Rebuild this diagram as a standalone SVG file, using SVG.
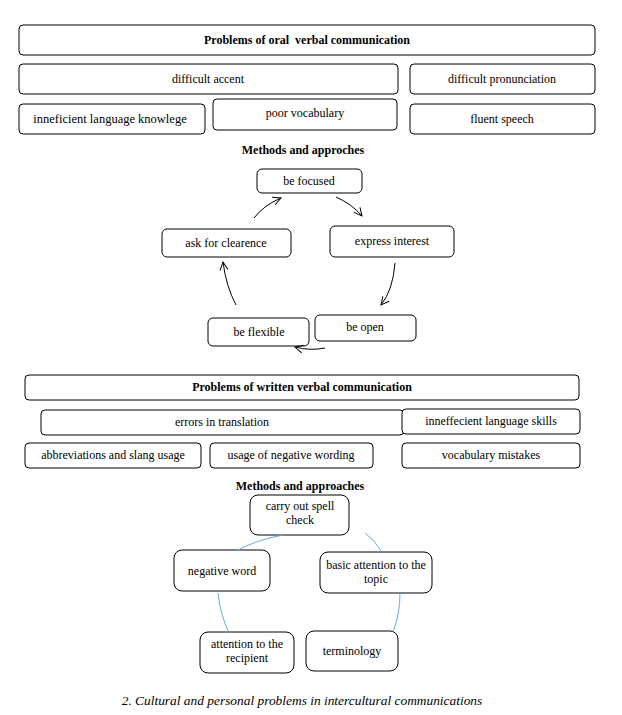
<svg xmlns="http://www.w3.org/2000/svg" width="622" height="715" viewBox="0 0 622 715">
<style>
text{font-family:"Liberation Serif","Times New Roman",serif;font-size:12px;fill:#000;text-anchor:middle;white-space:pre}
.b{font-weight:bold}
.i{font-style:italic;font-size:13.4px}
.n rect{fill:#fff;stroke:#000;stroke-width:1}
.a{fill:none;stroke:#000;stroke-width:1}
.c{fill:none;stroke:#6fa8dc;stroke-width:1}
</style>
<defs>
<marker id="ar" viewBox="0 0 10 10" refX="9" refY="5" markerWidth="10" markerHeight="10" orient="auto" markerUnits="userSpaceOnUse">
<path d="M1,1 L9,5 L1,9" fill="none" stroke="#000" stroke-width="1"/>
</marker>
</defs>
<rect width="622" height="715" fill="#fff"/>
<g class="n">
<g id="oral-title"><rect x="19" y="25" width="576" height="30" rx="4"/><text class="b" x="307" y="44">Problems of oral  verbal communication</text></g>
<g id="difficult-accent"><rect x="19" y="64" width="379" height="30" rx="4"/><text x="208" y="83">difficult accent</text></g>
<g id="difficult-pronunciation"><rect x="410" y="64" width="185" height="30" rx="4"/><text x="502" y="83">difficult pronunciation</text></g>
<g id="inneficient-knowlege"><rect x="19" y="104" width="186" height="30" rx="4"/><text x="110" y="123" style="font-size:12.5px">inneficient language knowlege</text></g>
<g id="poor-vocabulary"><rect x="213" y="99" width="184" height="31" rx="4"/><text x="305" y="117">poor vocabulary</text></g>
<g id="fluent-speech"><rect x="410" y="104" width="185" height="30" rx="4"/><text x="502" y="123">fluent speech</text></g>
<text class="b" x="303" y="154">Methods and approches</text>
<g id="be-focused"><rect x="257" y="169" width="105" height="24" rx="5"/><text x="309" y="185">be focused</text></g>
<g id="express-interest"><rect x="330" y="226" width="124" height="31" rx="5"/><text x="392" y="245">express interest</text></g>
<g id="ask-clearence"><rect x="162" y="229" width="129" height="28" rx="5"/><text x="226" y="247">ask for clearence</text></g>
<g id="be-open"><rect x="315" y="315" width="101" height="26" rx="5"/><text x="365" y="331">be open</text></g>
<g id="be-flexible"><rect x="208" y="318" width="101" height="28" rx="5"/><text x="259" y="336">be flexible</text></g>
<g id="written-title"><rect x="25" y="375" width="554" height="25" rx="4"/><text class="b" x="302" y="391">Problems of written verbal communication</text></g>
<g id="errors-translation"><rect x="41" y="410" width="363" height="25" rx="4"/><text x="222" y="426">errors in translation</text></g>
<g id="ineffecient-skills"><rect x="402" y="409" width="178" height="25" rx="4"/><text x="491" y="425">inneffecient language skills</text></g>
<g id="abbreviations"><rect x="25" y="443" width="176" height="25" rx="4"/><text x="113" y="459">abbreviations and slang usage</text></g>
<g id="negative-wording"><rect x="210" y="443" width="163" height="25" rx="4"/><text x="291" y="459">usage of negative wording</text></g>
<g id="vocabulary-mistakes"><rect x="402" y="443" width="178" height="25" rx="4"/><text x="491" y="459">vocabulary mistakes</text></g>
<text class="b" x="300" y="490">Methods and approaches</text>
<g id="spell-check"><rect x="250" y="495" width="99" height="40" rx="8"/><text x="300" y="510">carry out spell</text><text x="300" y="524">check</text></g>
<g id="negative-word"><rect x="174" y="550" width="96" height="41" rx="8"/><text x="222" y="575">negative word</text></g>
<g id="basic-attention"><rect x="320" y="552" width="112" height="41" rx="8"/><text x="376" y="569">basic attention to the</text><text x="376" y="583">topic</text></g>
<g id="attention-recipient"><rect x="200" y="632" width="94" height="41" rx="8"/><text x="247" y="648">attention to the</text><text x="247" y="662">recipient</text></g>
<g id="terminology"><rect x="306" y="631" width="92" height="40" rx="8"/><text x="352" y="655">terminology</text></g>
</g>
<g id="connectors">
<path class="a" d="M336,197 Q352,204 362,216" marker-end="url(#ar)"/>
<path class="a" d="M395,263 Q393,290 381,305" marker-end="url(#ar)"/>
<path class="a" d="M325,348 Q310,351 295,347" marker-end="url(#ar)"/>
<path class="a" d="M236,305 Q226,286 223,262" marker-end="url(#ar)"/>
<path class="a" d="M254,218 Q264,205 281,198" marker-end="url(#ar)"/>
<path class="c" d="M283,535 Q256,540 236,551"/>
<path class="c" d="M218,593 Q220,614 229,633"/>
<path class="c" d="M365,533 Q375,540 381,551"/>
<path class="c" d="M400,593 Q400,614 393,632"/>
</g>
<text class="i" x="302" y="705">2. Cultural and personal problems in intercultural communications</text>
</svg>
